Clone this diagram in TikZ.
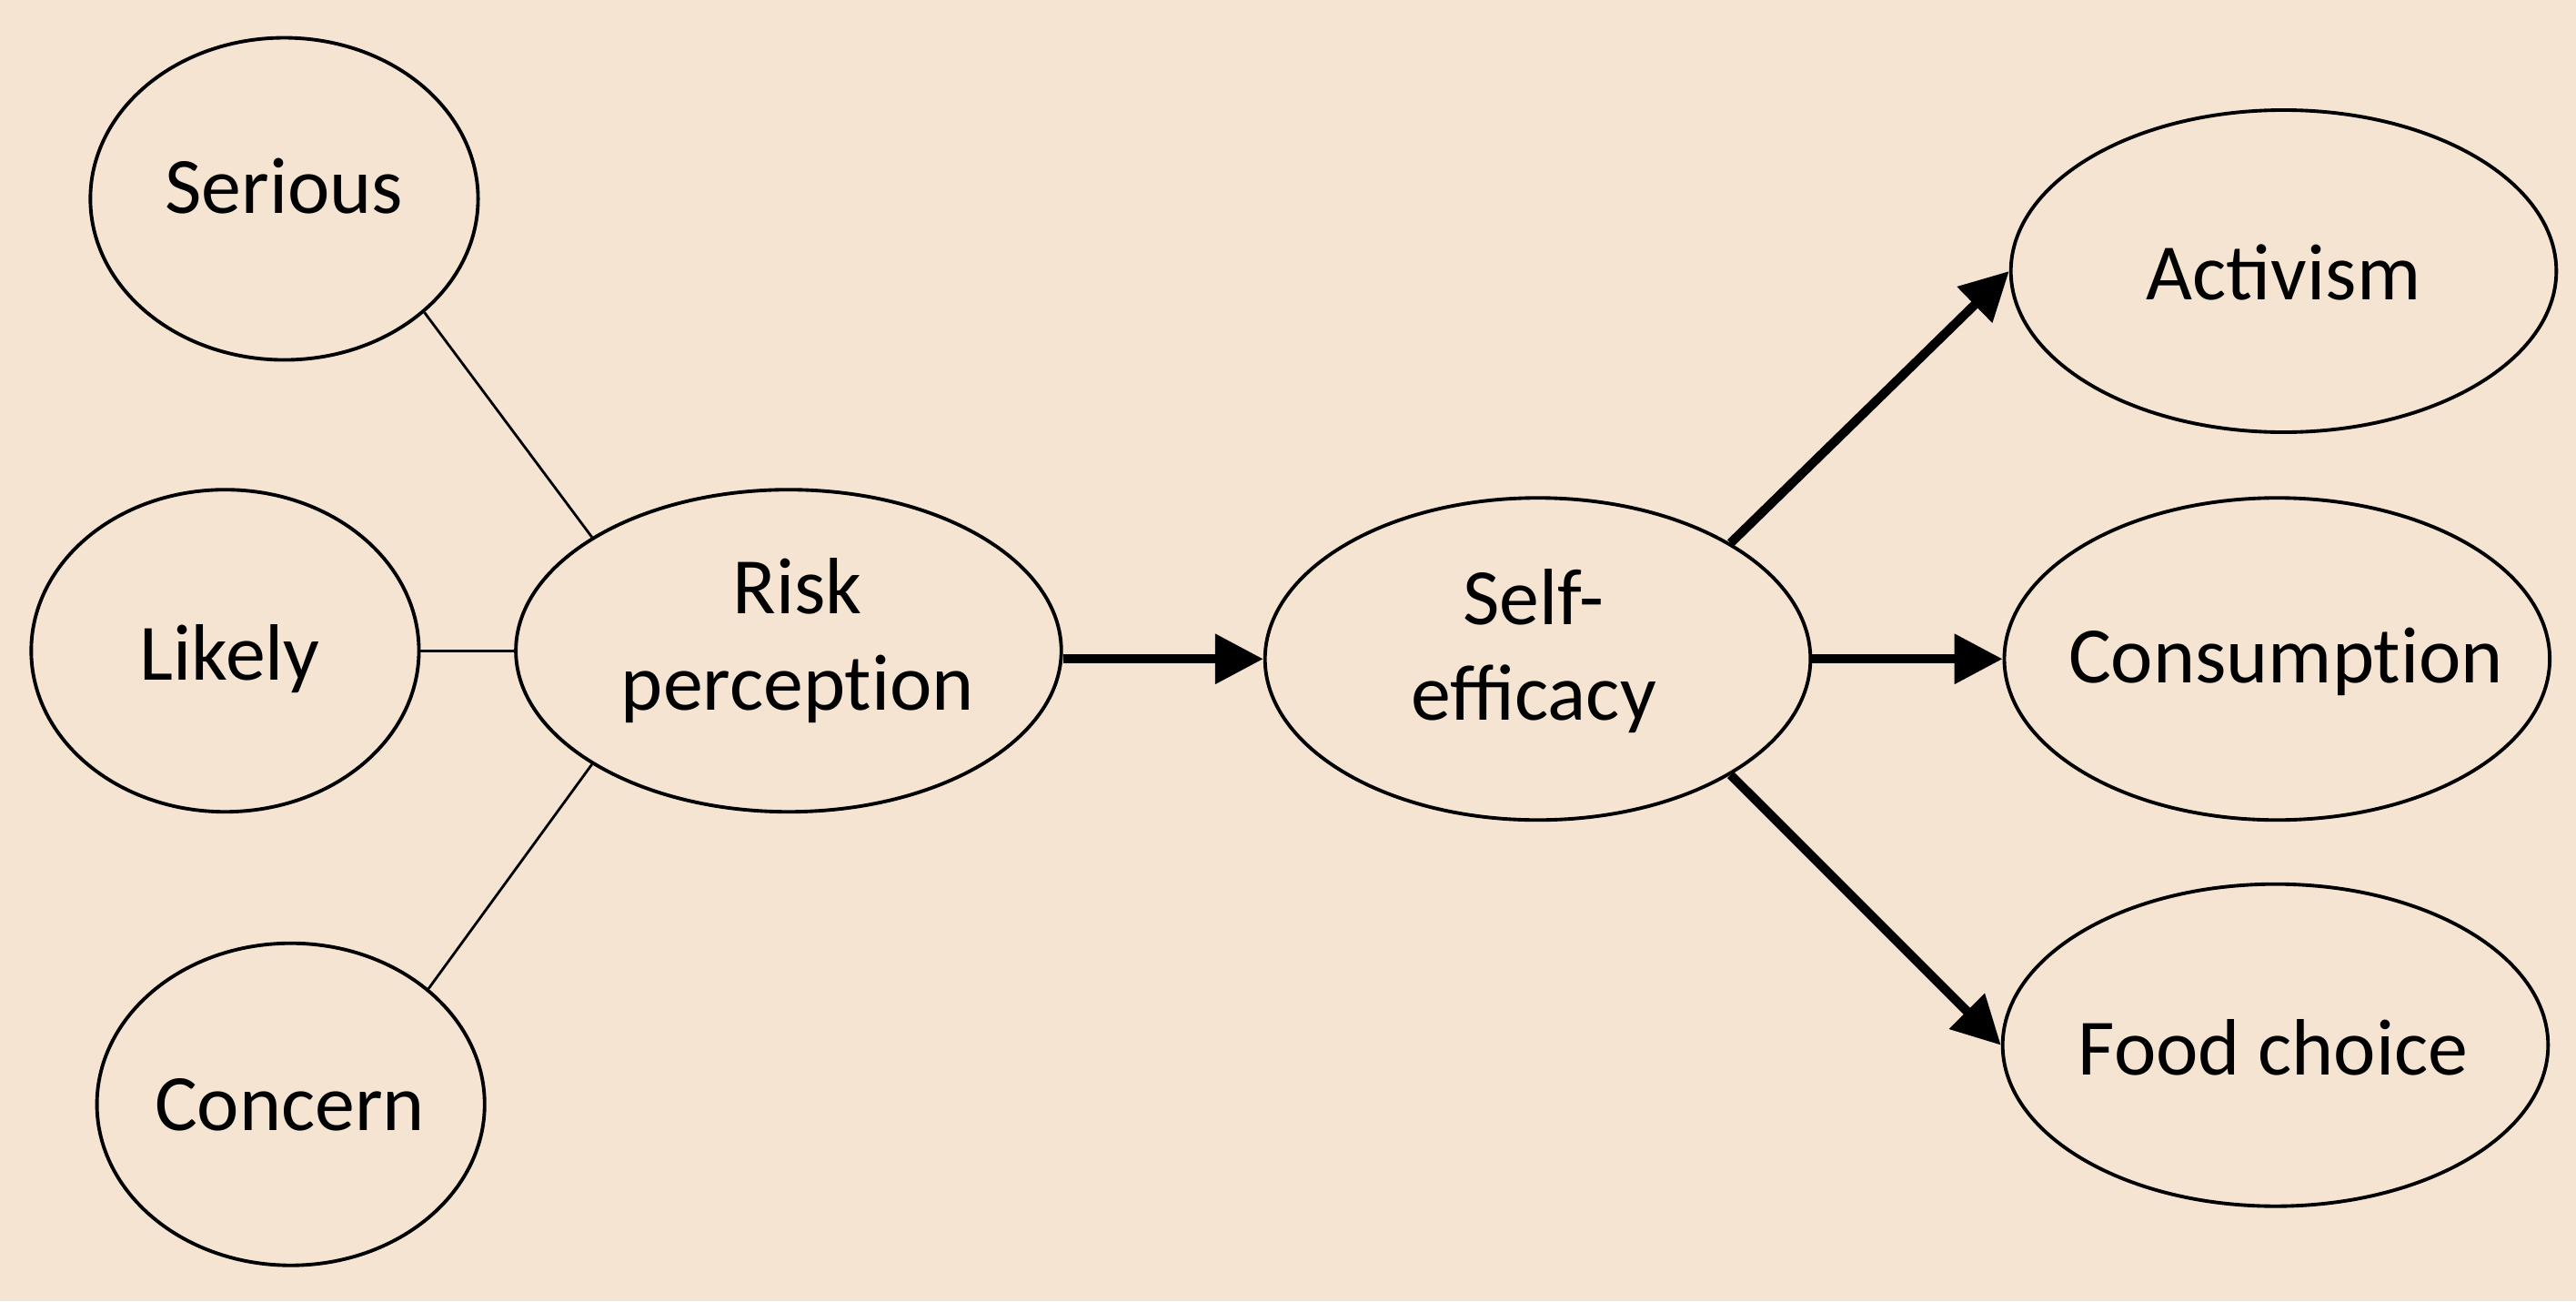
\documentclass[tikz,border=0pt]{standalone}
\usepackage{fontspec}
\setmainfont{Carlito}
\usepackage{tikz}
\usetikzlibrary{shapes.geometric,arrows.meta}
\definecolor{paper}{RGB}{245,228,210}
\tikzset{
	smallell/.style={draw, ellipse, line width=1.1pt, minimum width=4.262cm, minimum height=3.54cm, inner sep=0pt},
	bigell/.style={draw, ellipse, line width=1.1pt, minimum width=5.996cm, minimum height=3.54cm, inner sep=0pt},
	txt/.style={anchor=base, align=center, inner sep=0pt, font=\fontsize{25}{30}\selectfont},
	link/.style={line width=0.8pt},
	flow/.style={line width=2.85pt, -{Triangle[length=5.3mm,width=5.3mm]}}
}

\begin{document}
\begin{tikzpicture}[x=0.1806mm, y=-0.1806mm]
			%%%%% START %%%%%
			
			\fill[paper] (0, 0) rectangle (1568, 792);
			\useasboundingbox (0, 0) rectangle (1568, 792);
			
			\node[smallell] (serious) at (173, 121) {};
			\node[smallell] (likely) at (137, 396) {};
			\node[smallell] (concern) at (177, 672) {};
			
			\node[bigell] (risk) at (480, 396) {};
			\node[bigell] (self) at (936, 401) {};
			
			\node[bigell] (activism) at (1390, 165) {};
			\node[bigell] (consumption) at (1386, 401) {};
			\node[bigell] (food) at (1385, 636) {};
			
			% labels sit on their (last) baseline
			\node[txt] (seriouslbl) at (173, 130) {Serious};
			\node[txt] (likelylbl) at (140, 414) {Likely};
			\node[txt] (concernlbl) at (176.4, 687.7) {Concern};
			\node[txt] (risklbl) at (485.5, 432) {Risk\\percept\kern0pt ion};
			\node[txt] (selflbl) at (933.5, 438.5) {Self-\\efficacy};
			\node[txt] (activismlbl) at (1390, 182.3) {Activism};
			\node[txt] (consumptionlbl) at (1391.4, 415.6) {Consumpt\kern0pt ion};
			\node[txt] (foodlbl) at (1383.7, 654.3) {Food choice};
			
			\draw[link] (serious.-39) -- (risk.150);
			\draw[link] (likely.east) -- (risk.west);
			\draw[link] (concern.40) -- (risk.210);
			
			\draw[flow] (risk.east |- self.west) -- (self.west);
			\draw[flow] (self.31) -- (activism.west);
			\draw[flow] (self.east) -- (consumption.west);
			\draw[flow] (self.-31) -- (food.west);
			
			%%%%% END %%%%%
		\end{tikzpicture}
\end{document}
